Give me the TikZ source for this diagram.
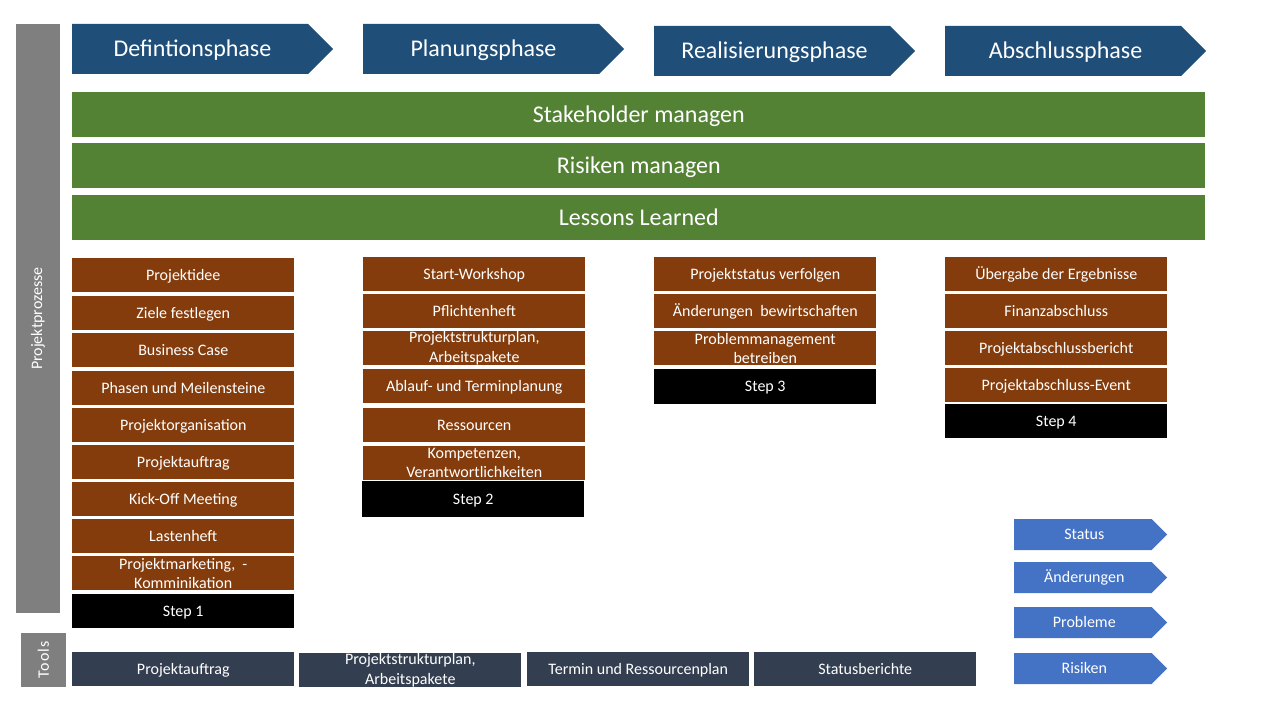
\documentclass[tikz,border=0pt]{standalone}
\usepackage{fontspec}
\setmainfont{Carlito}
\usepackage{tikz}
\definecolor{phaseblue}{HTML}{1F4E79}
\definecolor{barsgreen}{HTML}{548235}
\definecolor{taskbrown}{HTML}{843C0C}
\definecolor{toolslate}{HTML}{333F50}
\definecolor{sidegrey}{HTML}{7F7F7F}
\definecolor{controlblue}{HTML}{4472C4}
\tikzset{
  oneline/.style={text height=9.8pt, text depth=2.4pt},
  bigline/.style={text height=14.6pt, text depth=3.6pt},
  twoline/.style={text height={}, text depth={}},
  phase/.style={fill=phaseblue},
  phase label/.style={text=white, font=\fontsize{18}{21.6}\selectfont, bigline},
  control/.style={fill=controlblue},
  control label/.style={text=white, font=\fontsize{12}{14.4}\selectfont, oneline},
  bar/.style={fill=barsgreen, text=white, inner sep=0pt, anchor=north west, bigline,
    minimum width=849.75pt, minimum height=33.75pt, font=\fontsize{18}{21.6}\selectfont},
  task/.style={fill=taskbrown, text=white, inner sep=0pt, anchor=north west, align=center,
    minimum width=166.5pt, minimum height=25.5pt, font=\fontsize{12}{14.4}\selectfont, oneline},
  stepbox/.style={task, fill=black},
  toolbox/.style={task, fill=toolslate},
  sidebar/.style={fill=sidegrey, text=white, inner sep=0pt, rotate=90,
    font=\fontsize{12}{14.4}\selectfont}
}
% chevron: name, x, y, width, height, style, text
\def\chevron(#1,#2,#3,#4,#5,#6,#7){
  \fill[#6] (#2,#3) -- (#2+#4-0.5*#5,#3) -- (#2+#4,#3+0.5*#5)
    -- (#2+#4-0.5*#5,#3+#5) -- (#2,#3+#5) -- cycle;
  \node[#6 label] (#1) at (#2+0.5*#4-0.2*#5,#3+0.5*#5) {#7};
}
\begin{document}
\begin{tikzpicture}[x=0.75pt,y=-0.75pt]
\useasboundingbox (0,0) rectangle (1280,720);

% side bars
\node[sidebar, minimum width=441.75pt, minimum height=33pt] (prozesse) at (38,318.5) {Projektprozesse};
\node[sidebar, minimum width=40.5pt, minimum height=33.75pt] (tools) at (43.5,660)
  {\addfontfeature{LetterSpace=7}Tools};

% phases
\chevron(defphase,72,24,261,50,phase,Defintionsphase)
\chevron(planphase,363,24,261,50,phase,Planungsphase)
\chevron(realphase,654,26,261,50,phase,Realisierungsphase)
\chevron(endphase,945,26,261,50,phase,Abschlussphase)

% overall processes
\node[bar] (stakeholder) at (72,92) {Stakeholder managen};
\node[bar] (risiken) at (72,143) {Risiken managen};
\node[bar] (lessons) at (72,195) {Lessons Learned};

% step 1
\node[task] (idee) at (72,258) {Projektidee};
\node[task] (ziele) at (72,296) {Ziele festlegen};
\node[task] (business) at (72,333) {Business Case};
\node[task] (meilen) at (72,371) {Phasen und Meilensteine};
\node[task] (orga) at (72,408) {Projektorganisation};
\node[task] (auftrag) at (72,445) {Projektauftrag};
\node[task] (kickoff) at (72,482) {Kick-Off Meeting};
\node[task] (lasten) at (72,519) {Lastenheft};
\node[task, twoline] (marketing) at (72,556) {Projektmarketing,\ \ -\\Komminikation};
\node[stepbox] (step1) at (72,594) {Step 1};

% step 2
\node[task] (workshop) at (363,257) {Start-Workshop};
\node[task] (pflichten) at (363,294) {Pflichtenheft};
\node[task, twoline] (psp) at (363,331) {Projektstrukturplan,\\Arbeitspakete};
\node[task] (ablauf) at (363,369) {Ablauf- und Terminplanung};
\node[task] (ressourcen) at (363,408) {Ressourcen};
\node[task, twoline] (kompetenz) at (363,446) {Kompetenzen,\\Verantwortlichkeiten};
\node[stepbox, minimum height=27pt] (step2) at (362,481) {Step 2};

% step 3
\node[task] (status) at (654,257) {Projektstatus verfolgen};
\node[task] (aenderung) at (654,294) {Änderungen\ \ bewirtschaften};
\node[task, twoline] (problem) at (654,331) {Problemmanagement\\betreiben};
\node[stepbox, minimum height=26.25pt] (step3) at (654,369) {Step 3};

% step 4
\node[task] (uebergabe) at (945,257) {Übergabe der Ergebnisse};
\node[task] (finanz) at (945,294) {Finanzabschluss};
\node[task] (bericht) at (945,331) {Projektabschlussbericht};
\node[task] (event) at (945,368) {Projektabschluss-Event};
\node[stepbox] (step4) at (945,404) {Step 4};

% controlling
\chevron(ctrlstatus,1014,519,153,31,control,Status)
\chevron(ctrlaenderung,1014,562,153,31,control,Änderungen)
\chevron(ctrlproblem,1014,607,153,31,control,Probleme)
\chevron(ctrlrisiko,1014,653,153,31,control,Risiken)

% tools
\node[toolbox] (toolauftrag) at (72,652) {Projektauftrag};
\node[toolbox, twoline] (toolpsp) at (299,653) {Projektstrukturplan,\\Arbeitspakete};
\node[toolbox] (tooltermin) at (527,652) {Termin und Ressourcenplan};
\node[toolbox] (toolstatus) at (754,652) {Statusberichte};
\end{tikzpicture}
\end{document}
